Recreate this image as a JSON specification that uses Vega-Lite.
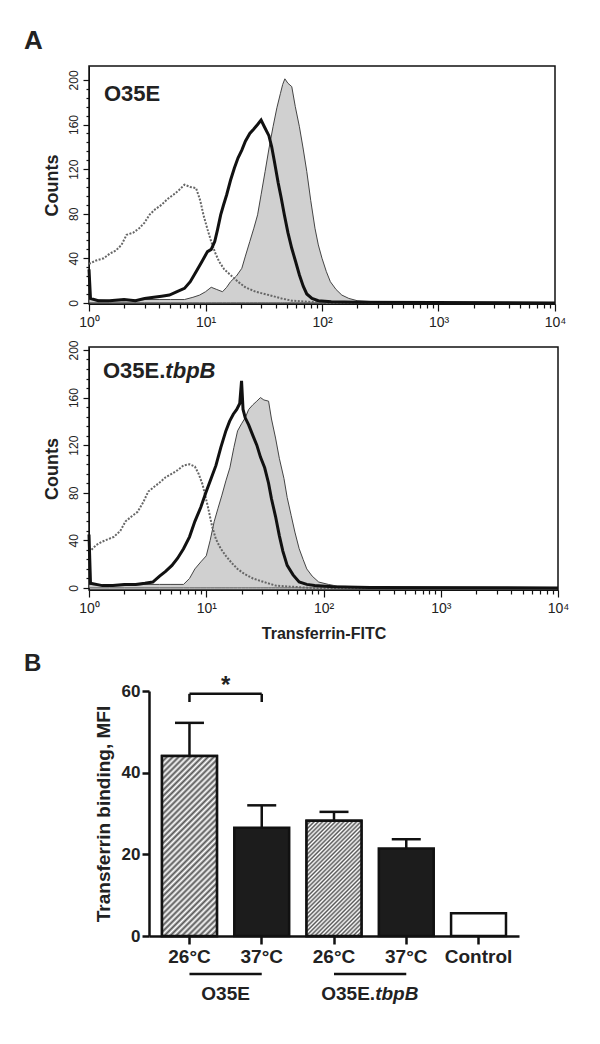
{
  "$schema": "https://vega.github.io/schema/vega-lite/v6.json",
  "background": "white",
  "padding": {"left": 23, "top": 27, "right": 10, "bottom": 5},
  "spacing": 9,
  "config": {
    "font": "Liberation Sans",
    "view": {"stroke": null},
    "axis": {"grid": false, "domainColor": "#111", "tickColor": "#111", "labelColor": "#222", "titleColor": "#222", "labelFont": "Liberation Sans", "titleFont": "Liberation Sans"},
    "title": {"font": "Liberation Sans", "color": "#222"},
    "text": {"font": "Liberation Sans", "color": "#222"}
  },
  "datasets": {
    "p1g": [{"x":1,"n":3},{"x":1.5,"n":2},{"x":2,"n":2},{"x":3,"n":3},{"x":4,"n":3},{"x":5,"n":3},{"x":6.6,"n":3},{"x":7.8,"n":5},{"x":8.9,"n":7},{"x":10,"n":10},{"x":11.2,"n":14},{"x":12.5,"n":12},{"x":14,"n":10},{"x":15.2,"n":14},{"x":16.4,"n":19},{"x":18.4,"n":24},{"x":20.5,"n":31},{"x":22,"n":42},{"x":24,"n":55},{"x":26,"n":67},{"x":28,"n":79},{"x":30,"n":97},{"x":32.5,"n":118},{"x":35,"n":138},{"x":38,"n":158},{"x":41,"n":175},{"x":44,"n":188},{"x":46,"n":196},{"x":48,"n":201},{"x":51,"n":197},{"x":55,"n":194},{"x":59,"n":176},{"x":64,"n":158},{"x":69,"n":138},{"x":74,"n":118},{"x":80,"n":92},{"x":87,"n":67},{"x":93,"n":52},{"x":100,"n":40},{"x":109,"n":28},{"x":118,"n":19},{"x":132,"n":12},{"x":148,"n":7},{"x":170,"n":4},{"x":200,"n":2},{"x":280,"n":1},{"x":450,"n":0.5},{"x":10000,"n":0}],
    "p1b": [{"x":1,"n":30},{"x":1.03,"n":4},{"x":1.2,"n":2},{"x":1.5,"n":2},{"x":2,"n":3},{"x":2.5,"n":2},{"x":3,"n":4},{"x":3.6,"n":5},{"x":4.2,"n":6},{"x":4.9,"n":7},{"x":5.7,"n":10},{"x":6.6,"n":13},{"x":7.4,"n":19},{"x":8.3,"n":28},{"x":9.3,"n":37},{"x":10.4,"n":46},{"x":11.2,"n":48},{"x":12,"n":55},{"x":12.7,"n":66},{"x":13.5,"n":79},{"x":14.3,"n":88},{"x":15.2,"n":97},{"x":16.4,"n":110},{"x":17.7,"n":121},{"x":19,"n":130},{"x":20.5,"n":137},{"x":22,"n":145},{"x":24,"n":152},{"x":26,"n":156},{"x":28,"n":160},{"x":30,"n":164},{"x":32,"n":158},{"x":35,"n":150},{"x":37,"n":140},{"x":39,"n":127},{"x":42,"n":108},{"x":44.5,"n":95},{"x":47.5,"n":79},{"x":51,"n":63},{"x":55,"n":49},{"x":59,"n":38},{"x":64,"n":25},{"x":69,"n":15},{"x":74,"n":8},{"x":82,"n":4},{"x":93,"n":2},{"x":120,"n":1},{"x":200,"n":0.5},{"x":10000,"n":0}],
    "p1c": [{"x":1,"n":35},{"x":1.15,"n":38},{"x":1.34,"n":40},{"x":1.5,"n":44},{"x":1.7,"n":47},{"x":1.9,"n":52},{"x":2.1,"n":61},{"x":2.4,"n":63},{"x":2.7,"n":67},{"x":3,"n":72},{"x":3.3,"n":79},{"x":3.7,"n":84},{"x":4.2,"n":88},{"x":4.7,"n":93},{"x":5.3,"n":97},{"x":5.9,"n":101},{"x":6.6,"n":106},{"x":7.4,"n":104},{"x":8.3,"n":103},{"x":9,"n":92},{"x":9.6,"n":79},{"x":10.4,"n":66},{"x":11.2,"n":55},{"x":12.1,"n":45},{"x":13.1,"n":37},{"x":14.5,"n":30},{"x":16.4,"n":25},{"x":19,"n":19},{"x":22,"n":14},{"x":27,"n":10},{"x":35,"n":7},{"x":45,"n":4},{"x":55,"n":2},{"x":75,"n":1},{"x":110,"n":0},{"x":10000,"n":0}],
    "p2g": [{"x":1,"n":3},{"x":1.5,"n":2},{"x":2,"n":2},{"x":3,"n":3},{"x":4,"n":3},{"x":5,"n":3},{"x":6.4,"n":3},{"x":7.2,"n":8},{"x":8,"n":16},{"x":9,"n":22},{"x":10,"n":27},{"x":10.8,"n":40},{"x":11.7,"n":56},{"x":12.6,"n":67},{"x":13.6,"n":78},{"x":14.7,"n":90},{"x":15.9,"n":101},{"x":17.2,"n":118},{"x":18.5,"n":132},{"x":20,"n":138},{"x":21.5,"n":143},{"x":23,"n":150},{"x":25,"n":154},{"x":27,"n":157},{"x":29,"n":160},{"x":31,"n":158},{"x":34,"n":157},{"x":36,"n":142},{"x":39,"n":126},{"x":42,"n":109},{"x":46,"n":92},{"x":49,"n":76},{"x":53,"n":61},{"x":57,"n":47},{"x":62,"n":33},{"x":67,"n":24},{"x":72,"n":16},{"x":80,"n":10},{"x":91,"n":5},{"x":110,"n":3},{"x":132,"n":1.5},{"x":200,"n":1},{"x":320,"n":0.5},{"x":10000,"n":0}],
    "p2b": [{"x":1,"n":45},{"x":1.03,"n":4},{"x":1.3,"n":2},{"x":1.6,"n":2},{"x":2,"n":3},{"x":2.5,"n":3},{"x":3,"n":4},{"x":3.5,"n":5},{"x":4,"n":10},{"x":4.5,"n":14},{"x":5.1,"n":19},{"x":5.7,"n":25},{"x":6.4,"n":33},{"x":7.2,"n":43},{"x":8,"n":56},{"x":9,"n":68},{"x":10,"n":81},{"x":11,"n":92},{"x":12.1,"n":103},{"x":13.3,"n":118},{"x":14.7,"n":132},{"x":15.8,"n":140},{"x":17,"n":146},{"x":18.2,"n":150},{"x":19.3,"n":155},{"x":20,"n":174},{"x":20.6,"n":150},{"x":21.5,"n":143},{"x":23,"n":137},{"x":25,"n":128},{"x":27,"n":120},{"x":29,"n":110},{"x":31.5,"n":101},{"x":34,"n":88},{"x":36,"n":75},{"x":39,"n":60},{"x":42,"n":44},{"x":45,"n":31},{"x":49,"n":19},{"x":55,"n":11},{"x":62,"n":5},{"x":72,"n":3},{"x":84,"n":2},{"x":120,"n":1},{"x":250,"n":0.5},{"x":10000,"n":0}],
    "p2c": [{"x":1,"n":30},{"x":1.15,"n":36},{"x":1.3,"n":39},{"x":1.63,"n":43},{"x":1.85,"n":48},{"x":2.05,"n":56},{"x":2.3,"n":60},{"x":2.6,"n":64},{"x":2.9,"n":72},{"x":3.2,"n":81},{"x":3.6,"n":85},{"x":4.05,"n":89},{"x":4.5,"n":93},{"x":5.1,"n":96},{"x":5.7,"n":99},{"x":6.4,"n":103},{"x":7.2,"n":104},{"x":8,"n":102},{"x":8.6,"n":96},{"x":9.3,"n":87},{"x":10.4,"n":67},{"x":11.2,"n":52},{"x":12.1,"n":41},{"x":13.3,"n":33},{"x":14.7,"n":27},{"x":16.5,"n":21},{"x":18.5,"n":16},{"x":21,"n":12},{"x":25,"n":8},{"x":31,"n":5},{"x":39,"n":2},{"x":55,"n":1},{"x":80,"n":0},{"x":10000,"n":0}],
    "bars": [
      {"bar":"O35E 26°C","temp":"26°C","mfi":44.1,"hi":52.2},
      {"bar":"O35E 37°C","temp":"37°C","mfi":26.5,"hi":32.0},
      {"bar":"O35E.tbpB 26°C","temp":"26°C","mfi":28.2,"hi":30.4},
      {"bar":"O35E.tbpB 37°C","temp":"37°C","mfi":21.4,"hi":23.7},
      {"bar":"Control","temp":"Control","mfi":5.6,"hi":5.6}
    ]
  },
  "vconcat": [
    {
      "width": 466, "height": 238,
      "view": {"stroke": "#111", "strokeWidth": 1.5},
      "title": {"text": "A", "anchor": "start", "frame": "group", "dx": -65, "fontSize": 26, "fontWeight": "bold", "baseline": "bottom", "offset": -14},
      "resolve": {"axis": {"x": "independent", "y": "independent"}},
      "layer": [
        {"data": {"name": "p1g"}, "mark": {"type": "area", "fill": "#d0d0d0", "stroke": "#444", "strokeWidth": 1},
         "encoding": {
           "x": {"field": "x", "type": "quantitative", "scale": {"type": "log", "domain": [1, 10000], "nice": false},
                 "axis": {"orient": "bottom", "title": null, "values": [1, 10, 100, 1000, 10000],
                          "labelExpr": "datum.value == 1 ? '10⁰' : datum.value == 10 ? '10¹' : datum.value == 100 ? '10²' : datum.value == 1000 ? '10³' : '10⁴'",
                          "tickSize": 7, "labelFlush": false, "labelOverlap": false, "labelFontSize": 14, "labelPadding": 4, "tickWidth": 1.2}},
           "y": {"field": "n", "type": "quantitative", "scale": {"domain": [-1, 212.5], "nice": false, "zero": false},
                 "axis": {"orient": "left", "title": "Counts", "titleFontSize": 18, "titleFontWeight": "bold", "titlePadding": 6,
                          "values": [0, 40, 80, 120, 160, 200], "tickSize": 6,
                          "labelAngle": -90, "labelAlign": "center", "labelBaseline": "bottom", "labelFontSize": 12, "labelPadding": 3, "labelOverlap": false, "tickWidth": 1.2}}
         }},
        {"data": {"name": "p1c"}, "mark": {"type": "line", "color": "#666", "strokeWidth": 2, "strokeDash": [2, 1.5]},
         "encoding": {
           "x": {"field": "x", "type": "quantitative", "axis": {"orient": "bottom", "title": null, "labels": false, "domain": false, "tickSize": 4, "tickWidth": 1.2, "values": [2,3,4,5,6,7,8,9,20,30,40,50,60,70,80,90,200,300,400,500,600,700,800,900,2000,3000,4000,5000,6000,7000,8000,9000]}},
           "y": {"field": "n", "type": "quantitative", "axis": {"orient": "left", "title": null, "labels": false, "domain": false, "tickSize": 3, "tickWidth": 1.2, "values": [8,16,24,32,48,56,64,72,88,96,104,112,128,136,144,152,168,176,184,192]}}}},
        {"data": {"name": "p1b"}, "mark": {"type": "line", "color": "#111", "strokeWidth": 3},
         "encoding": {"x": {"field": "x", "type": "quantitative", "axis": null}, "y": {"field": "n", "type": "quantitative", "axis": null}}},
        {"data": {"values": [{"t": "O35E"}]}, "mark": {"type": "text", "align": "left", "baseline": "alphabetic", "fontSize": 22, "fontWeight": "bold"},
         "encoding": {"text": {"field": "t"}, "x": {"datum": 1.345, "axis": null}, "y": {"datum": 181.2, "axis": null}}}
      ]
    },
    {
      "width": 469, "height": 243,
      "view": {"stroke": "#111", "strokeWidth": 1.5},
      "resolve": {"axis": {"x": "independent", "y": "independent"}},
      "layer": [
        {"data": {"name": "p2g"}, "mark": {"type": "area", "fill": "#d0d0d0", "stroke": "#444", "strokeWidth": 1},
         "encoding": {
           "x": {"field": "x", "type": "quantitative", "scale": {"type": "log", "domain": [1, 10000], "nice": false},
                 "axis": {"orient": "bottom", "title": "Transferrin-FITC", "titleFontSize": 16, "titleFontWeight": "bold", "titlePadding": 10,
                          "values": [1, 10, 100, 1000, 10000],
                          "labelExpr": "datum.value == 1 ? '10⁰' : datum.value == 10 ? '10¹' : datum.value == 100 ? '10²' : datum.value == 1000 ? '10³' : '10⁴'",
                          "tickSize": 7, "labelFlush": false, "labelOverlap": false, "labelFontSize": 14, "labelPadding": 4, "tickWidth": 1.2}},
           "y": {"field": "n", "type": "quantitative", "scale": {"domain": [-1.7, 202.5], "nice": false, "zero": false},
                 "axis": {"orient": "left", "title": "Counts", "titleFontSize": 18, "titleFontWeight": "bold", "titlePadding": 6,
                          "values": [0, 40, 80, 120, 160, 200], "tickSize": 6,
                          "labelAngle": -90, "labelAlign": "center", "labelBaseline": "bottom", "labelFontSize": 12, "labelPadding": 3, "labelOverlap": false, "tickWidth": 1.2}}
         }},
        {"data": {"name": "p2c"}, "mark": {"type": "line", "color": "#666", "strokeWidth": 2, "strokeDash": [2, 1.5]},
         "encoding": {
           "x": {"field": "x", "type": "quantitative", "axis": {"orient": "bottom", "title": null, "labels": false, "domain": false, "tickSize": 4, "tickWidth": 1.2, "values": [2,3,4,5,6,7,8,9,20,30,40,50,60,70,80,90,200,300,400,500,600,700,800,900,2000,3000,4000,5000,6000,7000,8000,9000]}},
           "y": {"field": "n", "type": "quantitative", "axis": {"orient": "left", "title": null, "labels": false, "domain": false, "tickSize": 3, "tickWidth": 1.2, "values": [8,16,24,32,48,56,64,72,88,96,104,112,128,136,144,152,168,176,184,192]}}}},
        {"data": {"name": "p2b"}, "mark": {"type": "line", "color": "#111", "strokeWidth": 3},
         "encoding": {"x": {"field": "x", "type": "quantitative", "axis": null}, "y": {"field": "n", "type": "quantitative", "axis": null}}},
        {"data": {"values": [{"t": "O35E."}]}, "mark": {"type": "text", "align": "right", "baseline": "alphabetic", "fontSize": 22, "fontWeight": "bold"},
         "encoding": {"text": {"field": "t"}, "x": {"datum": 4.48, "axis": null}, "y": {"datum": 176.4, "axis": null}}},
        {"data": {"values": [{"t": "tbpB"}]}, "mark": {"type": "text", "align": "left", "baseline": "alphabetic", "fontSize": 22, "fontWeight": "bold", "fontStyle": "italic"},
         "encoding": {"text": {"field": "t"}, "x": {"datum": 4.48, "axis": null}, "y": {"datum": 176.4, "axis": null}}}
      ]
    },
    {
      "width": 362, "height": 245,
      "title": {"text": "B", "anchor": "start", "frame": "group", "dx": -65, "fontSize": 24, "fontWeight": "bold", "baseline": "bottom", "offset": -26},
      "data": {"name": "bars"},
      "layer": [
        {"mark": {"type": "bar", "stroke": "#111", "strokeWidth": 2.5},
         "encoding": {
           "x": {"field": "bar", "type": "nominal", "sort": null,
                 "scale": {"domain": ["O35E 26°C", "O35E 37°C", "O35E.tbpB 26°C", "O35E.tbpB 37°C", "Control"], "range": [60, 430], "paddingInner": 0.24, "paddingOuter": 0.18},
                 "axis": {"title": null, "labelExpr": "datum.value == 'Control' ? 'Control' : split(datum.value, ' ')[1]", "labelAngle": 0, "labelFontSize": 19, "labelFontWeight": "bold", "tickSize": 8, "tickWidth": 2.5, "domainWidth": 2.5, "labelPadding": 3}},
           "y": {"field": "mfi", "type": "quantitative", "scale": {"domain": [0, 60], "nice": false},
                 "axis": {"values": [0, 20, 40, 60], "offset": -60, "title": "Transferrin binding, MFI", "titleFontSize": 19, "titleFontWeight": "bold", "titlePadding": 8, "labelFontSize": 17, "labelFontWeight": "bold", "tickSize": 7, "tickWidth": 2.5, "domainWidth": 2.5, "labelPadding": 2}},
           "fill": {"field": "temp", "type": "nominal", "scale": {"domain": ["26°C", "37°C", "Control"], "range": ["#a8a8a8", "#1c1c1c", "#ffffff"]}, "legend": null}
         }},
        {"transform": [{"filter": "datum.bar == 'O35E 26°C'"}],
         "mark": {"type": "bar", "stroke": "#111", "strokeWidth": 2.5,
                  "fill": {"gradient": "linear", "x1": 0, "y1": 0, "x2": 0.364, "y2": 1.194, "stops": [
                    {"offset":0,"color":"#555"},{"offset":0.0125,"color":"#fff"},{"offset":0.025,"color":"#555"},{"offset":0.0375,"color":"#fff"},{"offset":0.05,"color":"#555"},{"offset":0.0625,"color":"#fff"},{"offset":0.075,"color":"#555"},{"offset":0.0875,"color":"#fff"},{"offset":0.1,"color":"#555"},{"offset":0.1125,"color":"#fff"},{"offset":0.125,"color":"#555"},{"offset":0.1375,"color":"#fff"},{"offset":0.15,"color":"#555"},{"offset":0.1625,"color":"#fff"},{"offset":0.175,"color":"#555"},{"offset":0.1875,"color":"#fff"},{"offset":0.2,"color":"#555"},{"offset":0.2125,"color":"#fff"},{"offset":0.225,"color":"#555"},{"offset":0.2375,"color":"#fff"},{"offset":0.25,"color":"#555"},{"offset":0.2625,"color":"#fff"},{"offset":0.275,"color":"#555"},{"offset":0.2875,"color":"#fff"},{"offset":0.3,"color":"#555"},{"offset":0.3125,"color":"#fff"},{"offset":0.325,"color":"#555"},{"offset":0.3375,"color":"#fff"},{"offset":0.35,"color":"#555"},{"offset":0.3625,"color":"#fff"},{"offset":0.375,"color":"#555"},{"offset":0.3875,"color":"#fff"},{"offset":0.4,"color":"#555"},{"offset":0.4125,"color":"#fff"},{"offset":0.425,"color":"#555"},{"offset":0.4375,"color":"#fff"},{"offset":0.45,"color":"#555"},{"offset":0.4625,"color":"#fff"},{"offset":0.475,"color":"#555"},{"offset":0.4875,"color":"#fff"},{"offset":0.5,"color":"#555"},{"offset":0.5125,"color":"#fff"},{"offset":0.525,"color":"#555"},{"offset":0.5375,"color":"#fff"},{"offset":0.55,"color":"#555"},{"offset":0.5625,"color":"#fff"},{"offset":0.575,"color":"#555"},{"offset":0.5875,"color":"#fff"},{"offset":0.6,"color":"#555"},{"offset":0.6125,"color":"#fff"},{"offset":0.625,"color":"#555"},{"offset":0.6375,"color":"#fff"},{"offset":0.65,"color":"#555"},{"offset":0.6625,"color":"#fff"},{"offset":0.675,"color":"#555"},{"offset":0.6875,"color":"#fff"},{"offset":0.7,"color":"#555"},{"offset":0.7125,"color":"#fff"},{"offset":0.725,"color":"#555"},{"offset":0.7375,"color":"#fff"},{"offset":0.75,"color":"#555"},{"offset":0.7625,"color":"#fff"},{"offset":0.775,"color":"#555"},{"offset":0.7875,"color":"#fff"},{"offset":0.8,"color":"#555"},{"offset":0.8125,"color":"#fff"},{"offset":0.825,"color":"#555"},{"offset":0.8375,"color":"#fff"},{"offset":0.85,"color":"#555"},{"offset":0.8625,"color":"#fff"},{"offset":0.875,"color":"#555"},{"offset":0.8875,"color":"#fff"},{"offset":0.9,"color":"#555"},{"offset":0.9125,"color":"#fff"},{"offset":0.925,"color":"#555"},{"offset":0.9375,"color":"#fff"},{"offset":0.95,"color":"#555"},{"offset":0.9625,"color":"#fff"},{"offset":0.975,"color":"#555"},{"offset":0.9875,"color":"#fff"},{"offset":1,"color":"#555"}]}},
         "encoding": {"x": {"field": "bar", "type": "nominal"}, "y": {"field": "mfi", "type": "quantitative"}}},
        {"transform": [{"filter": "datum.bar == 'O35E.tbpB 26°C'"}],
         "mark": {"type": "bar", "stroke": "#111", "strokeWidth": 2.5,
                  "fill": {"gradient": "linear", "x1": 0, "y1": 0, "x2": 0.574, "y2": 1.203, "stops": [
                    {"offset":0,"color":"#555"},{"offset":0.0125,"color":"#fff"},{"offset":0.025,"color":"#555"},{"offset":0.0375,"color":"#fff"},{"offset":0.05,"color":"#555"},{"offset":0.0625,"color":"#fff"},{"offset":0.075,"color":"#555"},{"offset":0.0875,"color":"#fff"},{"offset":0.1,"color":"#555"},{"offset":0.1125,"color":"#fff"},{"offset":0.125,"color":"#555"},{"offset":0.1375,"color":"#fff"},{"offset":0.15,"color":"#555"},{"offset":0.1625,"color":"#fff"},{"offset":0.175,"color":"#555"},{"offset":0.1875,"color":"#fff"},{"offset":0.2,"color":"#555"},{"offset":0.2125,"color":"#fff"},{"offset":0.225,"color":"#555"},{"offset":0.2375,"color":"#fff"},{"offset":0.25,"color":"#555"},{"offset":0.2625,"color":"#fff"},{"offset":0.275,"color":"#555"},{"offset":0.2875,"color":"#fff"},{"offset":0.3,"color":"#555"},{"offset":0.3125,"color":"#fff"},{"offset":0.325,"color":"#555"},{"offset":0.3375,"color":"#fff"},{"offset":0.35,"color":"#555"},{"offset":0.3625,"color":"#fff"},{"offset":0.375,"color":"#555"},{"offset":0.3875,"color":"#fff"},{"offset":0.4,"color":"#555"},{"offset":0.4125,"color":"#fff"},{"offset":0.425,"color":"#555"},{"offset":0.4375,"color":"#fff"},{"offset":0.45,"color":"#555"},{"offset":0.4625,"color":"#fff"},{"offset":0.475,"color":"#555"},{"offset":0.4875,"color":"#fff"},{"offset":0.5,"color":"#555"},{"offset":0.5125,"color":"#fff"},{"offset":0.525,"color":"#555"},{"offset":0.5375,"color":"#fff"},{"offset":0.55,"color":"#555"},{"offset":0.5625,"color":"#fff"},{"offset":0.575,"color":"#555"},{"offset":0.5875,"color":"#fff"},{"offset":0.6,"color":"#555"},{"offset":0.6125,"color":"#fff"},{"offset":0.625,"color":"#555"},{"offset":0.6375,"color":"#fff"},{"offset":0.65,"color":"#555"},{"offset":0.6625,"color":"#fff"},{"offset":0.675,"color":"#555"},{"offset":0.6875,"color":"#fff"},{"offset":0.7,"color":"#555"},{"offset":0.7125,"color":"#fff"},{"offset":0.725,"color":"#555"},{"offset":0.7375,"color":"#fff"},{"offset":0.75,"color":"#555"},{"offset":0.7625,"color":"#fff"},{"offset":0.775,"color":"#555"},{"offset":0.7875,"color":"#fff"},{"offset":0.8,"color":"#555"},{"offset":0.8125,"color":"#fff"},{"offset":0.825,"color":"#555"},{"offset":0.8375,"color":"#fff"},{"offset":0.85,"color":"#555"},{"offset":0.8625,"color":"#fff"},{"offset":0.875,"color":"#555"},{"offset":0.8875,"color":"#fff"},{"offset":0.9,"color":"#555"},{"offset":0.9125,"color":"#fff"},{"offset":0.925,"color":"#555"},{"offset":0.9375,"color":"#fff"},{"offset":0.95,"color":"#555"},{"offset":0.9625,"color":"#fff"},{"offset":0.975,"color":"#555"},{"offset":0.9875,"color":"#fff"},{"offset":1,"color":"#555"}]}},
         "encoding": {"x": {"field": "bar", "type": "nominal"}, "y": {"field": "mfi", "type": "quantitative"}}},
        {"transform": [{"filter": "datum.hi > datum.mfi"}],
         "mark": {"type": "rule", "strokeWidth": 2.5, "color": "#111"},
         "encoding": {"x": {"field": "bar", "type": "nominal"}, "y": {"field": "mfi", "type": "quantitative"}, "y2": {"field": "hi"}}},
        {"transform": [{"filter": "datum.hi > datum.mfi"}],
         "mark": {"type": "tick", "orient": "horizontal", "size": 29, "thickness": 2.5, "color": "#111", "opacity": 1},
         "encoding": {"x": {"field": "bar", "type": "nominal"}, "y": {"field": "hi", "type": "quantitative"}}},
        {"data": {"values": [{"a": "O35E 26°C", "b": "O35E 37°C"}]},
         "mark": {"type": "rule", "strokeWidth": 2.5, "color": "#111"},
         "encoding": {"x": {"field": "a", "type": "nominal"}, "x2": {"field": "b"}, "y": {"datum": 59.3}}},
        {"data": {"values": [{"a": "O35E 26°C"}, {"a": "O35E 37°C"}]},
         "mark": {"type": "rule", "strokeWidth": 2.5, "color": "#111"},
         "encoding": {"x": {"field": "a", "type": "nominal"}, "y": {"datum": 57.3}, "y2": {"datum": 59.3}}},
        {"data": {"values": [{"a": "O35E 26°C", "t": "*"}]},
         "mark": {"type": "text", "fontSize": 24, "fontWeight": "bold", "baseline": "top", "align": "center"},
         "encoding": {"x": {"field": "a", "type": "nominal", "bandPosition": 1.158}, "y": {"datum": 64.2}, "text": {"field": "t"}}},
        {"data": {"values": [{"a": "O35E 26°C", "b": "O35E 37°C"}, {"a": "O35E.tbpB 26°C", "b": "O35E.tbpB 37°C"}]},
         "mark": {"type": "rule", "strokeWidth": 2.5, "color": "#111"},
         "encoding": {"x": {"field": "a", "type": "nominal"}, "x2": {"field": "b"}, "y": {"datum": -9.3}}},
        {"data": {"values": [{"a": "O35E 26°C", "t": "O35E"}]},
         "mark": {"type": "text", "fontSize": 19, "fontWeight": "bold", "baseline": "middle", "align": "center"},
         "encoding": {"x": {"field": "a", "type": "nominal", "bandPosition": 1.158}, "y": {"datum": -14.2}, "text": {"field": "t"}}},
        {"data": {"values": [{"a": "O35E.tbpB 26°C", "t": "O35E."}]},
         "mark": {"type": "text", "fontSize": 19, "fontWeight": "bold", "baseline": "middle", "align": "right", "dx": 5},
         "encoding": {"x": {"field": "a", "type": "nominal", "bandPosition": 1.158}, "y": {"datum": -14.2}, "text": {"field": "t"}}},
        {"data": {"values": [{"a": "O35E.tbpB 26°C", "t": "tbpB"}]},
         "mark": {"type": "text", "fontSize": 19, "fontWeight": "bold", "fontStyle": "italic", "baseline": "middle", "align": "left", "dx": 5},
         "encoding": {"x": {"field": "a", "type": "nominal", "bandPosition": 1.158}, "y": {"datum": -14.2}, "text": {"field": "t"}}}
      ]
    }
  ]
}
